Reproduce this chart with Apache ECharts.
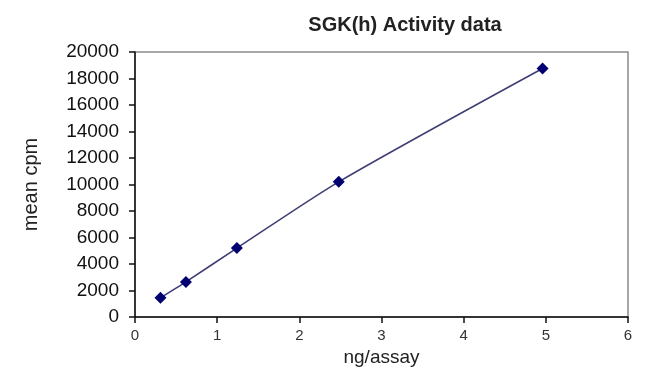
<!DOCTYPE html>
<html>
<head>
<meta charset="utf-8">
<script src="https://cdn.jsdelivr.net/npm/echarts@6/dist/echarts.min.js"></script>
<style>
html,body{margin:0;padding:0;background:#fff;}
#c{width:650px;height:383px;}
</style>
</head>
<body>
<div id="c"></div>
<script>
var titleText = "SGK(h) Activity data";
var xName = "ng/assay";
var yName = "mean cpm";
var ngPerAssay = [0.31, 0.62, 1.24, 2.48, 4.96];
var meanCpm = [1450, 2650, 5200, 10200, 18750];
var xTicks = [0, 1, 2, 3, 4, 5, 6];
var yTicks = [0, 2000, 4000, 6000, 8000, 10000, 12000, 14000, 16000, 18000, 20000];

var points = ngPerAssay.map(function (x, i) { return [x, meanCpm[i]]; });
var font = "Liberation Sans, Arial, sans-serif";

var chart = echarts.init(document.getElementById('c'), null, {renderer: 'canvas'});
chart.setOption({
  animation: false,
  backgroundColor: '#fff',
  title: {
    text: titleText,
    left: 400, top: 10, textAlign: 'center',
    textStyle: {fontFamily: font, fontSize: 20, fontWeight: 'bold', color: '#222'}
  },
  grid: {
    left: 135, right: 22, top: 52, bottom: 66,
    show: true, borderColor: '#8a8a8a', borderWidth: 1.5, backgroundColor: '#fff'
  },
  xAxis: {
    type: 'value',
    min: xTicks[0], max: xTicks[xTicks.length - 1], interval: 1,
    name: xName, nameLocation: 'middle', nameGap: 26,
    nameTextStyle: {fontFamily: font, fontSize: 19, color: '#222'},
    axisLine: {show: true, lineStyle: {color: '#111', width: 1.5}},
    axisTick: {show: true, inside: false, length: 6, lineStyle: {color: '#111', width: 1.5}},
    axisLabel: {fontFamily: font, fontSize: 15, color: '#333', margin: 11,
      formatter: function (v) { return String(v); }},
    splitLine: {show: false}
  },
  yAxis: {
    type: 'value',
    min: yTicks[0], max: yTicks[yTicks.length - 1], interval: 2000,
    name: yName, nameLocation: 'middle', nameGap: 94, nameRotate: 90,
    nameTextStyle: {fontFamily: font, fontSize: 20, color: '#222'},
    axisLine: {show: true, lineStyle: {color: '#111', width: 1.5}},
    axisTick: {show: true, inside: false, length: 6, lineStyle: {color: '#111', width: 1.5}},
    axisLabel: {fontFamily: font, fontSize: 19, color: '#111', margin: 16,
      formatter: function (v) { return String(v); }},
    splitLine: {show: false}
  },
  series: [{
    type: 'line',
    data: points,
    smooth: 0.25,
    symbol: 'diamond',
    symbolSize: 12,
    lineStyle: {color: '#3f3f75', width: 1.6},
    itemStyle: {color: '#000070', borderWidth: 0}
  }]
});
</script>
</body>
</html>
